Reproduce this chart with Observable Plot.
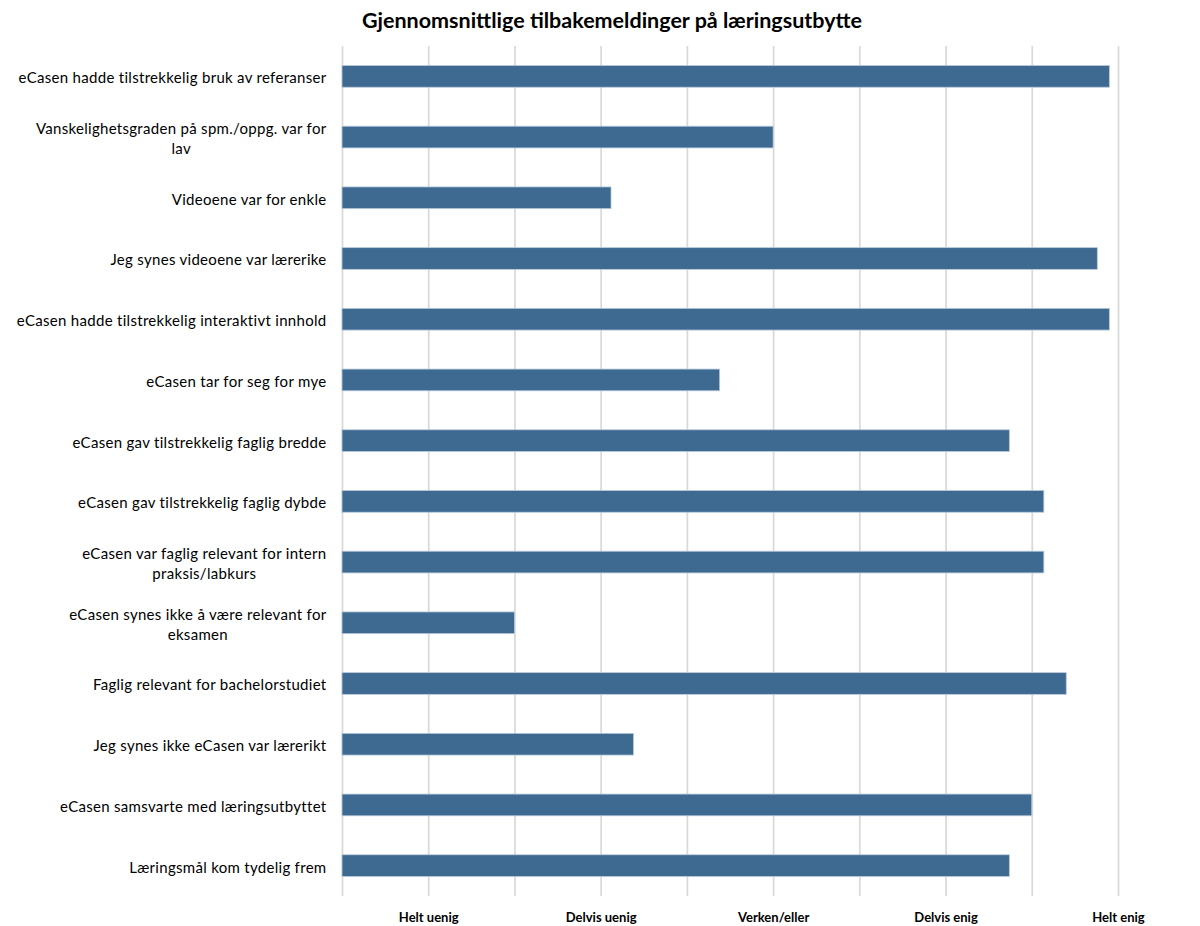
<!DOCTYPE html>
<html><head><meta charset="utf-8">
<script src="https://cdn.jsdelivr.net/npm/d3@7"></script>
<script src="https://cdn.jsdelivr.net/npm/@observablehq/plot@0.6"></script>
<style>
body{margin:0;background:#fff;font-family:Lato,sans-serif;}
#title{width:1200px;height:36px;line-height:40px;text-align:center;padding-left:24px;box-sizing:border-box;font-weight:bold;font-size:21.5px;color:#000;}
</style></head><body>
<div id="title">Gjennomsnittlige tilbakemeldinger på læringsutbytte</div>
<div id="chart"></div>
<script>
const statements = [
  "eCasen hadde tilstrekkelig bruk av referanser",
  "Vanskelighetsgraden på spm./oppg. var for\nlav",
  "Videoene var for enkle",
  "Jeg synes videoene var lærerike",
  "eCasen hadde tilstrekkelig interaktivt innhold",
  "eCasen tar for seg for mye",
  "eCasen gav tilstrekkelig faglig bredde",
  "eCasen gav tilstrekkelig faglig dybde",
  "eCasen var faglig relevant for intern\npraksis/labkurs",
  "eCasen synes ikke å være relevant for\neksamen",
  "Faglig relevant for bachelorstudiet",
  "Jeg synes ikke eCasen var lærerikt",
  "eCasen samsvarte med læringsutbyttet",
  "Læringsmål kom tydelig frem"
];
const scores = [4.95, 3.00, 2.06, 4.88, 4.95, 2.69, 4.37, 4.57, 4.57, 1.50, 4.70, 2.19, 4.50, 4.37];
const scaleValues = [1, 2, 3, 4, 5];
const scaleLabels = ["Helt uenig", "Delvis uenig", "Verken/eller", "Delvis enig", "Helt enig"];
const gridValues = [0.5, 1, 1.5, 2, 2.5, 3, 3.5, 4, 4.5, 5];

const axisMin = gridValues[0];
const axisMax = gridValues[gridValues.length - 1];
const data = statements.map((s, i) => ({statement: s, score: scores[i]}));

const chart = Plot.plot({
  width: 1200,
  height: 890,
  marginTop: 10,
  marginBottom: 30,
  marginLeft: 342,
  marginRight: 82,
  style: {fontFamily: "Lato, sans-serif", color: "#000", background: "#fff"},
  x: {domain: [axisMin, axisMax]},
  y: {domain: statements, padding: 0, round: false},
  marks: [
    Plot.gridX(gridValues, {stroke: "#d9d9d9", strokeOpacity: 1, strokeWidth: 1.75}),
    Plot.barX(data, {x1: () => axisMin, x2: "score", y: "statement", fill: "#3e6a91", stroke: "#b8cadb", strokeWidth: 0.8, insetTop: 19.5, insetBottom: 19.5}),
    Plot.axisX(scaleValues, {tickFormat: d => scaleLabels[scaleValues.indexOf(d)], tickSize: 0, tickPadding: 16, fontWeight: "bold", fontSize: 13, label: null}),
    Plot.axisY({tickSize: 0, tickPadding: 16, fontSize: 15, lineHeight: 1.35, label: null})
  ]
});
document.getElementById("chart").appendChild(chart);

// letter spacing for the statement labels (wider Calibri-like look)
chart.querySelectorAll("g[aria-label='y-axis tick label'] text").forEach(t => {
  t.setAttribute("letter-spacing", "0.3");
});
// center wrapped lines within each multi-line y label (Excel-style)
chart.querySelectorAll("g[aria-label='y-axis tick label'] text").forEach(t => {
  const spans = t.querySelectorAll("tspan");
  if (spans.length > 1) {
    let maxW = 0;
    spans.forEach(s => { maxW = Math.max(maxW, s.getComputedTextLength()); });
    t.setAttribute("text-anchor", "middle");
    spans.forEach(s => s.setAttribute("x", -maxW / 2));
  }
});
</script>
</body></html>
